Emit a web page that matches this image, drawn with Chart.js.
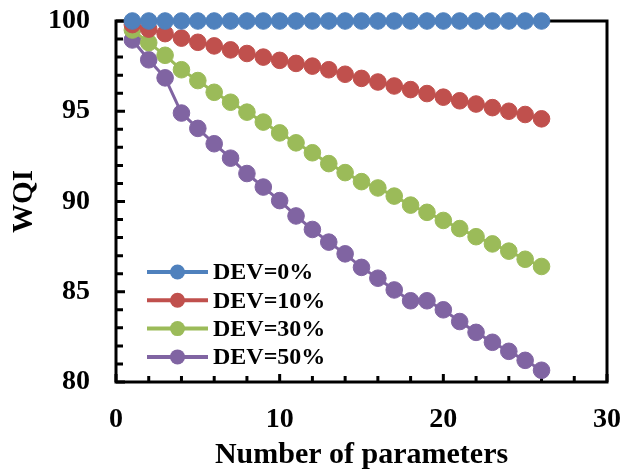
<!DOCTYPE html>
<html>
<head>
<meta charset="utf-8">
<script src="https://cdn.jsdelivr.net/npm/chart.js@4.4.1/dist/chart.umd.min.js"></script>
<style>
  html, body { margin: 0; padding: 0; background: #fff; }
  #wrap { width: 623px; height: 476px; position: relative; }
</style>
</head>
<body>
<div id="wrap"><canvas id="wqiChart"></canvas></div>
<script>
// Number of parameters (x)
const paramCounts = [1, 2, 3, 4, 5, 6, 7, 8, 9, 10, 11, 12, 13, 14, 15, 16, 17, 18, 19, 20, 21, 22, 23, 24, 25, 26];

// WQI per deviation level
const dev0 = [100, 100, 100, 100, 100, 100, 100, 100, 100, 100, 100, 100, 100,
              100, 100, 100, 100, 100, 100, 100, 100, 100, 100, 100, 100, 100];
const dev10 = [99.8, 99.55, 99.3, 99.05, 98.82, 98.62, 98.4, 98.2, 98.0, 97.82, 97.65, 97.5, 97.3,
               97.05, 96.82, 96.62, 96.4, 96.2, 95.98, 95.78, 95.58, 95.4, 95.2, 95.0, 94.82, 94.58];
const dev30 = [99.5, 98.8, 98.1, 97.3, 96.7, 96.05, 95.5, 94.95, 94.4, 93.8, 93.25, 92.7, 92.1,
               91.6, 91.1, 90.75, 90.3, 89.8, 89.4, 88.95, 88.5, 88.05, 87.65, 87.25, 86.8, 86.4];
const dev50 = [98.95, 97.85, 96.85, 94.9, 94.05, 93.2, 92.4, 91.55, 90.8, 90.05, 89.2, 88.45, 87.75,
               87.1, 86.35, 85.75, 85.1, 84.5, 84.5, 84.0, 83.35, 82.75, 82.2, 81.7, 81.2, 80.65];

const seriesLabels = ['DEV=0%', 'DEV=10%', 'DEV=30%', 'DEV=50%'];
const seriesValues = [dev0, dev10, dev30, dev50];
const seriesColors = ['#4f81bd', '#c0504d', '#9bbb59', '#8064a2'];

// tick label values
const xLabelTicks = [0, 10, 20, 30];
const yLabelTicks = [80, 85, 90, 95, 100];

const serif = "'Liberation Serif', 'Times New Roman', serif";

// kill the automatic label overhang padding so the plot box lands where we want it
const noOverhang = scale => {
    scale.paddingTop = 0;
    scale.paddingBottom = 0;
    scale.paddingLeft = 0;
    scale.paddingRight = 0;
};

// frame + inward tick marks
const framePlugin = {
    id: 'frame',
    beforeDatasetsDraw(chart) {
        const {ctx, chartArea: a, scales} = chart;
        ctx.save();
        ctx.strokeStyle = '#000';
        ctx.lineWidth = 3;
        ctx.lineCap = 'butt';
        ctx.beginPath();
        scales.y.ticks.forEach(t => {
            const py = scales.y.getPixelForValue(t.value);
            const len = yLabelTicks.includes(t.value) ? 9 : 7;
            ctx.moveTo(a.left, py);
            ctx.lineTo(a.left + len, py);
        });
        scales.x.ticks.forEach(t => {
            const px = scales.x.getPixelForValue(t.value);
            const len = xLabelTicks.includes(t.value) ? 8 : 6;
            ctx.moveTo(px, a.bottom);
            ctx.lineTo(px, a.bottom - len);
        });
        ctx.stroke();
        ctx.lineJoin = 'miter';
        ctx.strokeRect(a.left, a.top, a.right - a.left, a.bottom - a.top);
        ctx.restore();
    }
};

// legend drawn inside the plot area, lower left
const insideLegend = {
    id: 'insideLegend',
    afterDatasetsDraw(chart) {
        const {ctx, chartArea: a} = chart;
        const x0 = a.left + 31, x1 = a.left + 92;
        let y = a.top + 251;
        ctx.save();
        ctx.font = "bold 24px " + serif;
        ctx.textBaseline = 'middle';
        ctx.textAlign = 'left';
        chart.data.datasets.forEach(ds => {
            ctx.strokeStyle = ds.borderColor;
            ctx.lineWidth = 4;
            ctx.beginPath();
            ctx.moveTo(x0, y);
            ctx.lineTo(x1, y);
            ctx.stroke();
            ctx.fillStyle = ds.backgroundColor;
            ctx.beginPath();
            ctx.arc((x0 + x1) / 2, y, 7.5, 0, Math.PI * 2);
            ctx.fill();
            ctx.fillStyle = '#000';
            ctx.fillText(ds.label, x1 + 5, y + 1);
            y += 28.3;
        });
        ctx.restore();
    }
};

const initWqiChart = () => {
    const ctx = document.getElementById('wqiChart')?.getContext('2d');
    if (!ctx) return null;

    return new Chart(ctx, {
        type: 'line',
        data: {
            datasets: seriesValues.map((vals, i) => ({
                label: seriesLabels[i],
                data: paramCounts.map((n, j) => ({x: n, y: vals[j]})),
                borderColor: seriesColors[i],
                backgroundColor: seriesColors[i],
                pointBackgroundColor: seriesColors[i],
                pointBorderColor: seriesColors[i],
                pointBorderWidth: 1,
                pointRadius: 8.3,
                borderWidth: 3,
                tension: 0,
                clip: false
            }))
        },
        plugins: [framePlugin, insideLegend],
        options: {
            responsive: true,
            maintainAspectRatio: false,
            devicePixelRatio: 1,
            animation: false,
            layout: {
                padding: {left: 0, right: 16, top: 21, bottom: 0}
            },
            scales: {
                x: {
                    type: 'linear',
                    min: 0,
                    max: 30,
                    afterFit: scale => { scale.height = 94; noOverhang(scale); },
                    grid: {display: false, drawTicks: false},
                    border: {display: false},
                    ticks: {
                        stepSize: 2,
                        autoSkip: false,
                        maxRotation: 0,
                        padding: 21,
                        color: '#000',
                        font: {family: serif, size: 28, weight: 'bold'},
                        callback: v => xLabelTicks.includes(v) ? String(v) : ''
                    },
                    title: {
                        display: true,
                        text: 'Number of parameters',
                        color: '#000',
                        padding: {top: 0, bottom: 3},
                        font: {family: serif, size: 30, weight: 'bold'}
                    }
                },
                y: {
                    min: 80,
                    max: 100,
                    afterFit: scale => { scale.width = 116; noOverhang(scale); },
                    grid: {display: false, drawTicks: false},
                    border: {display: false},
                    ticks: {
                        stepSize: 1,
                        autoSkip: false,
                        padding: 26,
                        color: '#000',
                        font: {family: serif, size: 28, weight: 'bold'},
                        callback: v => yLabelTicks.includes(v) ? String(v) : ''
                    },
                    title: {
                        display: true,
                        text: 'WQI',
                        color: '#000',
                        padding: {top: 7, bottom: 0},
                        font: {family: serif, size: 29, weight: 'bold'}
                    }
                }
            },
            plugins: {
                legend: {display: false},
                tooltip: {enabled: false}
            }
        }
    });
};

initWqiChart();
</script>
</body>
</html>
